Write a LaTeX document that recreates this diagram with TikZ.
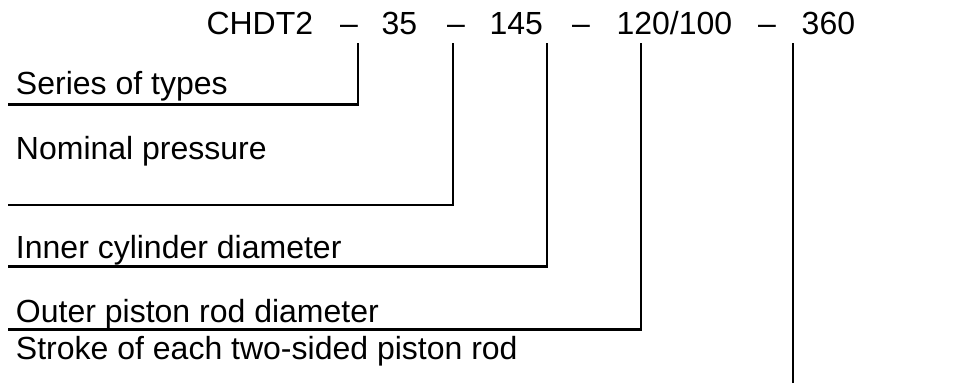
\documentclass[tikz,border=0pt]{standalone}
\usepackage{fontspec}
\setmainfont{Liberation Sans}
\begin{document}
\begin{tikzpicture}[x=1pt,y=1pt,
  txt/.style={anchor=base west,inner sep=0pt,outer sep=0pt,font=\fontsize{32}{38}\selectfont},
  leader/.style={line width=2.2pt,black}]
\useasboundingbox (0,0) rectangle (955,383);
% title parts
\node[txt] (ch)  at (206.5,348) {CHDT2};
\node[txt] (d1)  at (340,348) {--};
\node[txt] (pn)  at (381.7,348) {35};
\node[txt] (d2)  at (447,348) {--};
\node[txt] (di)  at (489.5,348) {145};
\node[txt] (d3)  at (572,348) {--};
\node[txt] (dr)  at (616.5,348) {120/100};
\node[txt] (d4)  at (758,348) {--};
\node[txt] (st)  at (801.7,348) {360};
% labels
\node[txt] (lser) at (16,288) {Series of types};
\node[txt] (lnom) at (16,223) {Nominal pressure};
\node[txt] (linn) at (16,124.5) {Inner cylinder diameter};
\node[txt] (lout) at (16,61) {Outer piston rod diameter};
\node[txt] (lstr) at (16,24) {Stroke of each two-sided piston rod};
% leader end points
\coordinate (tser) at (358,340);
\coordinate (tnom) at (453,340);
\coordinate (tinn) at (547,340);
\coordinate (tout) at (641,340);
\coordinate (tstr) at (793,340);
\coordinate (bser) at (8,278.5);
\coordinate (bnom) at (8,178);
\coordinate (binn) at (8,116.5);
\coordinate (bout) at (8,53.5);
\coordinate (bstr) at (793,0);
% leaders
\draw[leader] (bser) -| (tser);
\draw[leader] (bnom) -| (tnom);
\draw[leader] (binn) -| (tinn);
\draw[leader] (bout) -| (tout);
\draw[leader] (bstr) -- (tstr);
\end{tikzpicture}
\end{document}
